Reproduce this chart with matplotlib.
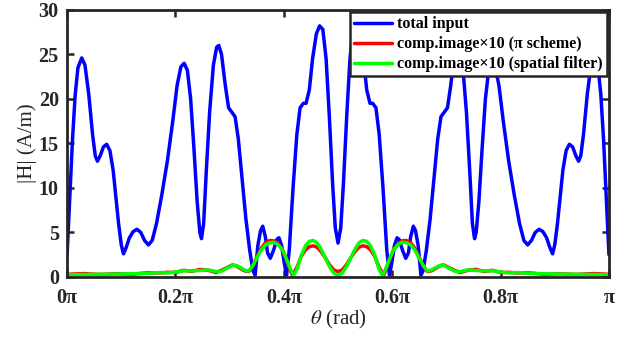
import matplotlib
matplotlib.use("Agg")
import matplotlib.pyplot as plt

# theta in units of pi, |H| in A/m
theta_total = [
    0.000, 0.005, 0.010, 0.015, 0.020, 0.027, 0.033, 0.040, 0.047, 0.052,
    0.056, 0.061, 0.067, 0.073, 0.079, 0.085, 0.090, 0.095, 0.100, 0.104,
    0.109, 0.115, 0.122, 0.129, 0.136, 0.143, 0.150, 0.157, 0.165, 0.175,
    0.185, 0.195, 0.203, 0.210, 0.216, 0.222, 0.228, 0.234, 0.240, 0.245,
    0.248, 0.252, 0.257, 0.263, 0.270, 0.276, 0.280, 0.285, 0.292, 0.298,
    0.304, 0.310, 0.316, 0.323, 0.330, 0.337, 0.343, 0.347, 0.352, 0.357,
    0.361, 0.366, 0.370, 0.375, 0.381, 0.387, 0.391, 0.396, 0.401, 0.405,
    0.410, 0.417, 0.424, 0.430, 0.436, 0.441, 0.447, 0.453, 0.460, 0.466,
    0.472, 0.478, 0.484, 0.490, 0.495, 0.500,
    0.505, 0.510, 0.516, 0.522, 0.528, 0.534, 0.540, 0.547, 0.553, 0.559,
    0.564, 0.570, 0.576, 0.583, 0.590, 0.595, 0.599, 0.604, 0.609, 0.613,
    0.619, 0.625, 0.630, 0.634, 0.639, 0.643, 0.648, 0.653, 0.657, 0.663,
    0.670, 0.677, 0.684, 0.690, 0.696, 0.702, 0.708, 0.715, 0.720, 0.724,
    0.730, 0.737, 0.743, 0.748, 0.752, 0.755, 0.760, 0.766, 0.772, 0.778,
    0.784, 0.790, 0.797, 0.805, 0.815, 0.825, 0.835, 0.843, 0.850, 0.857,
    0.864, 0.871, 0.878, 0.885, 0.891, 0.896, 0.900, 0.905, 0.910, 0.915,
    0.921, 0.927, 0.933, 0.939, 0.944, 0.948, 0.953, 0.960, 0.967, 0.973,
    0.980, 0.985, 0.990, 0.995, 1.000]
h_total = [
    2.5, 9.0, 15.5, 20.5, 23.5, 24.6, 23.8, 20.5, 16.0, 13.6,
    13.0, 13.6, 14.6, 14.9, 14.2, 12.0, 9.0, 6.0, 3.6, 2.6,
    3.3, 4.4, 5.1, 5.35, 5.0, 4.1, 3.6, 4.1, 6.0, 9.3,
    13.0, 17.5, 21.5, 23.6, 24.0, 23.2, 20.0, 14.5, 8.5, 5.0,
    4.3, 6.0, 12.0, 18.5, 23.8, 25.8, 26.0, 25.0, 21.5, 19.0,
    18.5, 18.0, 15.5, 11.0, 6.5, 3.0, 0.7, 0.2, 3.5, 5.2,
    5.7, 4.5, 2.7, 2.1, 3.0, 4.2, 4.4, 3.5, 1.5, 0.2,
    3.0, 10.0, 16.0, 19.0, 19.5, 19.5, 21.0, 24.5, 27.3, 28.2,
    27.8, 24.5, 18.0, 10.5, 5.5, 3.8,
    5.5, 10.5, 18.0, 24.5, 27.8, 28.2, 27.3, 24.5, 21.0, 19.5,
    19.5, 19.0, 16.0, 10.0, 3.0, 0.2, 1.5, 3.5, 4.4, 4.2,
    3.0, 2.1, 2.7, 4.5, 5.7, 5.2, 3.5, 0.2, 0.7, 3.0,
    6.5, 11.0, 15.5, 18.0, 18.5, 19.0, 21.5, 25.0, 26.0, 25.8,
    23.8, 18.5, 12.0, 6.0, 4.3, 5.0, 8.5, 14.5, 20.0, 23.2,
    24.0, 23.6, 21.5, 17.5, 13.0, 9.3, 6.0, 4.1, 3.6, 4.1,
    5.0, 5.35, 5.1, 4.4, 3.3, 2.6, 3.6, 6.0, 9.0, 12.0,
    14.2, 14.9, 14.6, 13.6, 13.0, 13.6, 16.0, 20.5, 23.8, 24.6,
    23.5, 20.5, 15.5, 9.0, 2.5]

theta_pi = [
    0.000, 0.030, 0.060, 0.090, 0.120, 0.150, 0.170, 0.185, 0.200, 0.215,
    0.230, 0.245, 0.260, 0.275, 0.285, 0.295, 0.305, 0.312, 0.320, 0.327,
    0.335, 0.342, 0.350, 0.358, 0.366, 0.374, 0.382, 0.390, 0.398, 0.405,
    0.412, 0.416, 0.425, 0.432, 0.440, 0.447, 0.454, 0.461, 0.468, 0.476,
    0.484, 0.492, 0.500,
    0.508, 0.516, 0.524, 0.532, 0.539, 0.546, 0.553, 0.560, 0.568, 0.575,
    0.584, 0.588, 0.595, 0.602, 0.610, 0.618, 0.626, 0.634, 0.642, 0.650,
    0.658, 0.665, 0.673, 0.680, 0.688, 0.695, 0.705, 0.715, 0.725, 0.740,
    0.755, 0.770, 0.785, 0.800, 0.815, 0.830, 0.850, 0.880, 0.910, 0.940,
    0.970, 1.000]
h_pi = [
    0.30, 0.38, 0.28, 0.36, 0.30, 0.48, 0.45, 0.52, 0.50, 0.75,
    0.62, 0.85, 0.75, 0.50, 0.75, 1.05, 1.35, 1.25, 0.95, 0.70,
    0.60, 1.15, 2.20, 3.20, 3.85, 4.10, 4.05, 3.70, 3.00, 1.90,
    0.70, 0.20, 1.20, 2.30, 3.05, 3.40, 3.50, 3.35, 2.90, 2.20,
    1.40, 0.80, 0.60,
    0.80, 1.40, 2.20, 2.90, 3.35, 3.50, 3.40, 3.05, 2.30, 1.20,
    0.20, 0.70, 1.90, 3.00, 3.70, 4.05, 4.10, 3.85, 3.20, 2.20,
    1.15, 0.60, 0.70, 0.95, 1.25, 1.35, 1.05, 0.75, 0.50, 0.75,
    0.85, 0.62, 0.75, 0.50, 0.52, 0.45, 0.48, 0.30, 0.36, 0.28,
    0.38, 0.30]

theta_sf = [
    0.000, 0.030, 0.060, 0.090, 0.120, 0.150, 0.170, 0.185, 0.200, 0.215,
    0.230, 0.245, 0.260, 0.275, 0.285, 0.295, 0.305, 0.312, 0.320, 0.327,
    0.335, 0.342, 0.350, 0.358, 0.366, 0.374, 0.382, 0.390, 0.398, 0.405,
    0.412, 0.418, 0.425, 0.432, 0.440, 0.447, 0.454, 0.461, 0.468, 0.476,
    0.484, 0.492, 0.500,
    0.508, 0.516, 0.524, 0.532, 0.539, 0.546, 0.553, 0.560, 0.568, 0.575,
    0.582, 0.588, 0.595, 0.602, 0.610, 0.618, 0.626, 0.634, 0.642, 0.650,
    0.658, 0.665, 0.673, 0.680, 0.688, 0.695, 0.705, 0.715, 0.725, 0.740,
    0.755, 0.770, 0.785, 0.800, 0.815, 0.830, 0.850, 0.880, 0.910, 0.940,
    0.970, 1.000]
h_sf = [
    0.25, 0.28, 0.30, 0.33, 0.36, 0.42, 0.50, 0.45, 0.55, 0.70,
    0.68, 0.72, 0.80, 0.60, 0.65, 1.00, 1.30, 1.30, 1.05, 0.80,
    0.65, 1.20, 2.10, 3.00, 3.60, 3.85, 3.90, 3.60, 3.00, 2.00,
    0.90, 0.15, 1.00, 2.40, 3.50, 4.00, 4.10, 3.85, 3.20, 2.20,
    1.20, 0.45, 0.15,
    0.45, 1.20, 2.20, 3.20, 3.85, 4.10, 4.00, 3.50, 2.40, 1.00,
    0.15, 0.90, 2.00, 3.00, 3.60, 3.90, 3.85, 3.60, 3.00, 2.10,
    1.20, 0.65, 0.80, 1.05, 1.30, 1.30, 1.00, 0.65, 0.60, 0.80,
    0.72, 0.68, 0.70, 0.55, 0.45, 0.50, 0.42, 0.36, 0.33, 0.30,
    0.28, 0.25]

xticks = [0, 0.2, 0.4, 0.6, 0.8, 1.0]
xticklabels = ['0π', '0.2π', '0.4π', '0.6π', '0.8π', 'π']
yticks = [0, 5, 10, 15, 20, 25, 30]

plt.rcParams['font.family'] = ['Liberation Serif', 'DejaVu Serif']
plt.rcParams['mathtext.fontset'] = 'stix'

fig = plt.figure(figsize=(6.33, 3.39), dpi=100)
ax = fig.add_axes([0.106, 0.183, 0.856, 0.788])

line_kw = dict(lw=2.5, solid_joinstyle='round', solid_capstyle='round')
ax.plot(theta_total, h_total, color='#0000ff', label='total input', **line_kw)
ax.plot(theta_pi, h_pi, color='#ff0000', label='comp.image×10 (π scheme)', **line_kw)
ax.plot(theta_sf, h_sf, color='#00ff00', label='comp.image×10 (spatial filter)', **line_kw)

ax.set_xlim(0, 1)
ax.set_ylim(0, 30)
ax.set_xticks(xticks)
ax.set_xticklabels(xticklabels)
ax.set_yticks(yticks)
ax.tick_params(direction='in', length=5, width=1.8, colors='#262626',
               top=True, right=True, labelsize=14.5)
ax.tick_params(axis='x', pad=8)
ax.tick_params(axis='y', pad=6)
for lab in ax.get_xticklabels() + ax.get_yticklabels():
    lab.set_fontweight('bold')
    lab.set_color('#262626')
for s in ax.spines.values():
    s.set_linewidth(2)
    s.set_color('#262626')

ax.set_xlabel(r'$\theta$ (rad)', fontsize=15, color='#262626', labelpad=0)
ax.set_ylabel('|H| (A/m)', fontsize=15, color='#262626', labelpad=1)

leg = ax.legend(loc='upper right', prop={'weight': 'bold', 'size': 11.5},
                handlelength=2.4, handletextpad=0.3, labelspacing=0.25,
                borderpad=0.25, borderaxespad=0.15, fancybox=False, framealpha=1)
leg.get_frame().set_edgecolor('#262626')
leg.get_frame().set_linewidth(1.8)

fig.savefig('out.png', dpi=100)
